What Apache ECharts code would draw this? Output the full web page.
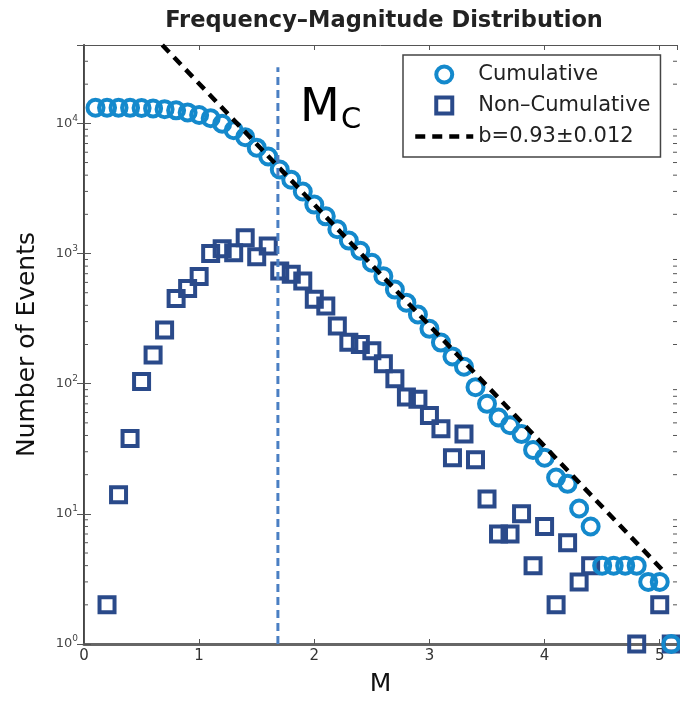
<!DOCTYPE html>
<html><head><meta charset="utf-8">
<script src="https://cdn.jsdelivr.net/npm/echarts@6/dist/echarts.min.js"></script>
<style>html,body{margin:0;padding:0;background:#fff}#c{width:680px;height:702px}</style>
</head><body><div id="c"></div><script>
// ---- data ----
const cumMags = [0.1,0.2,0.3,0.4,0.5,0.6,0.7,0.8,0.9,1.0,1.1,1.2,1.3,1.4,1.5,1.6,1.7,1.8,1.9,2.0,2.1,2.2,2.3,2.4,2.5,2.6,2.7,2.8,2.9,3.0,3.1,3.2,3.3,3.4,3.5,3.6,3.7,3.8,3.9,4.0,4.1,4.2,4.3,4.4,4.5,4.6,4.7,4.8,4.9,5.0,5.1];
const cumCounts = [13174,13174,13172,13158,13120,13016,12850,12591,12140,11602,10937,9937,8847,7831,6507,5561,4420,3686,2993,2377,1931,1535,1257,1049,849,670,528,419,340,264,207,162,135,94,70,55,48,41,31,27,19,17,11,8,4,4,4,4,3,3,1];
const nonCumMags = [0.2,0.3,0.4,0.5,0.6,0.7,0.8,0.9,1.0,1.1,1.2,1.3,1.4,1.5,1.6,1.7,1.8,1.9,2.0,2.1,2.2,2.3,2.4,2.5,2.6,2.7,2.8,2.9,3.0,3.1,3.2,3.3,3.4,3.5,3.6,3.7,3.8,3.9,4.0,4.1,4.2,4.3,4.4,4.8,5.0,5.1];
const nonCumCounts = [2,14,38,104,166,259,451,538,665,1000,1090,1016,1324,946,1141,734,693,616,446,396,278,208,200,179,142,109,79,76,57,45,27,41,26,13,7,7,10,4,8,2,6,3,4,1,2,1];
const fitMags = [0.68, 5.03];
const fitCounts = [40000, 3.65];
const mcMags = [1.684, 1.684];
const mcCounts = [1, 27000];
const seriesNames = ['Cumulative', 'Non\u2013Cumulative', 'b=0.93\u00b10.012'];
const titleText = 'Frequency\u2013Magnitude Distribution';
const xName = 'M';
const yName = 'Number of Events';
const xTicks = [0, 1, 2, 3, 4, 5];
const yTickExponents = [0, 1, 2, 3, 4];

const X_MIN = 0, X_MAX = 5.15, Y_MIN = 1, Y_MAX = 40000;
const CUM_COLOR = '#1489cc', NC_COLOR = '#2a4a8a', MC_COLOR = '#4a7fc3';
const SQUARE_ICON = 'path://M0,0H10V10H0Z';

const zip = (a, b) => a.map((v, i) => [v, b[i]]);
const minorVals = [];
for (let e = 0; e < 5; e++) for (let k = 2; k <= 9; k++) { const v = k * Math.pow(10, e); if (v < Y_MAX) minorVals.push(v); }

const chart = echarts.init(document.getElementById('c'), null, {renderer: 'canvas'});
const yLabelFmt = v => {
  const l = Math.log10(v), e = Math.round(l);
  if (Math.abs(l - e) > 1e-6 || yTickExponents.indexOf(e) < 0) return '';
  return '{b|10}{s|' + e + '}';
};
chart.setOption({
  animation: false,
  backgroundColor: '#fff',
  title: {
    text: titleText, left: 379, top: 5, textAlign: 'center',
    textStyle: {fontFamily: 'DejaVu Sans', fontWeight: 'bold', fontSize: 22.5, color: '#222'}
  },
  grid: {left: 84, right: 1, top: 45, bottom: 56},
  legend: {
    orient: 'vertical', left: 403, top: 55,
    itemWidth: 58, itemHeight: 16, itemGap: 10,
    padding: [9, 10, 10, 10],
    borderColor: '#444', borderWidth: 1.5, backgroundColor: '#fff',
    selectedMode: false,
    textStyle: {fontFamily: 'DejaVu Sans', fontSize: 21, color: '#222'},
    data: [
      {name: seriesNames[0], icon: 'circle', itemStyle: {color: 'rgba(255,255,255,0)', borderColor: CUM_COLOR, borderWidth: 4, opacity: 1}},
      {name: seriesNames[1], icon: SQUARE_ICON, itemStyle: {color: 'rgba(255,255,255,0)', borderColor: NC_COLOR, borderWidth: 4, opacity: 1}},
      {name: seriesNames[2], itemStyle: {color: 'rgba(0,0,0,0)', borderWidth: 0, opacity: 0}, lineStyle: {color: '#000', width: 4.5, type: [10, 7], opacity: 1}}
    ]
  },
  xAxis: [{
    type: 'value', min: X_MIN, max: X_MAX, interval: 1, position: 'bottom',
    name: xName, nameLocation: 'middle', nameGap: 28,
    nameTextStyle: {fontFamily: 'DejaVu Sans', fontSize: 25, color: '#111'},
    axisLine: {onZero: false, lineStyle: {color: '#666', width: 3}},
    axisTick: {inside: true, length: 5, lineStyle: {color: '#555'}},
    axisLabel: {margin: 5, fontFamily: 'DejaVu Sans', fontSize: 15, color: '#333',
      formatter: v => xTicks.indexOf(v) >= 0 ? String(v) : ''},
    splitLine: {show: false}
  }, {
    type: 'value', min: X_MIN, max: X_MAX, interval: 1, position: 'top',
    axisLine: {onZero: false, lineStyle: {color: '#555', width: 1}},
    axisTick: {inside: true, length: 5, lineStyle: {color: '#555'}},
    axisLabel: {show: false}, splitLine: {show: false}
  }],
  yAxis: [{
    type: 'log', logBase: 10, min: Y_MIN, max: Y_MAX, position: 'left',
    name: yName, nameLocation: 'middle', nameGap: 44,
    nameTextStyle: {fontFamily: 'DejaVu Sans', fontSize: 25, color: '#111'},
    axisLine: {show: true, lineStyle: {color: '#444', width: 2}},
    axisTick: {inside: true, length: 7, lineStyle: {color: '#555'}},
    axisLabel: {margin: 6, formatter: yLabelFmt,
      rich: {
        b: {fontFamily: 'DejaVu Sans', fontSize: 13, color: '#444'},
        s: {fontFamily: 'DejaVu Sans', fontSize: 9, color: '#444', padding: [0, 0, 10, 0]}
      }},
    splitLine: {show: false}
  }, {
    type: 'log', logBase: 10, min: Y_MIN, max: Y_MAX, position: 'right',
    axisLine: {show: true, lineStyle: {color: '#555', width: 1}},
    axisTick: {inside: true, length: 7, lineStyle: {color: '#555'}},
    axisLabel: {show: false}, splitLine: {show: false}
  }],
  graphic: [
    {type: 'text', left: 300, top: 86, z: 10, style: {text: 'M', font: '46px "DejaVu Sans"', fill: '#000'}},
    {type: 'text', left: 341, top: 106, z: 10, style: {text: 'C', font: '29px "DejaVu Sans"', fill: '#000'}}
  ],
  series: [
    {
      type: 'custom', name: 'minorTicks', silent: true, z: 1, xAxisIndex: 0, yAxisIndex: 0,
      data: minorVals.map(v => [X_MIN, v]),
      encode: {x: 0, y: 1},
      renderItem: (params, api) => {
        const p = api.coord([X_MIN, api.value(1)]);
        const cs = params.coordSys;
        return {type: 'group', children: [
          {type: 'line', shape: {x1: cs.x, y1: p[1], x2: cs.x + 4, y2: p[1]}, style: {stroke: '#555', lineWidth: 1}},
          {type: 'line', shape: {x1: cs.x + cs.width, y1: p[1], x2: cs.x + cs.width - 4, y2: p[1]}, style: {stroke: '#555', lineWidth: 1}}
        ]};
      }
    },
    {
      type: 'scatter', name: seriesNames[1], z: 2, symbol: 'rect', symbolSize: 15,
      data: zip(nonCumMags, nonCumCounts),
      itemStyle: {color: 'rgba(255,255,255,0)', borderColor: NC_COLOR, borderWidth: 4, opacity: 1},
      emphasis: {disabled: true}
    },
    {
      type: 'scatter', name: seriesNames[0], z: 3, symbol: 'circle', symbolSize: 16,
      data: zip(cumMags, cumCounts),
      itemStyle: {color: 'rgba(255,255,255,0)', borderColor: CUM_COLOR, borderWidth: 4, opacity: 1},
      emphasis: {disabled: true}
    },
    {
      type: 'line', name: seriesNames[2], z: 4, symbol: 'none', silent: true,
      data: zip(fitMags, fitCounts),
      lineStyle: {color: '#000', width: 4.5, type: [10, 7]}
    },
    {
      type: 'line', name: 'Mc', z: 5, symbol: 'none', silent: true,
      data: zip(mcMags, mcCounts),
      lineStyle: {color: MC_COLOR, width: 3, type: [8, 5]}
    }
  ]
});
</script></body></html>
